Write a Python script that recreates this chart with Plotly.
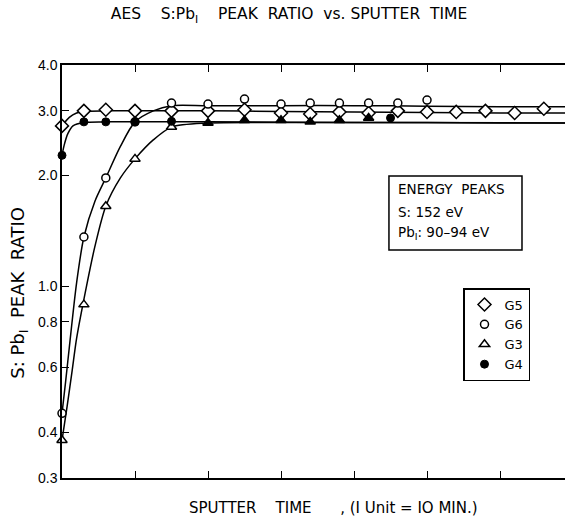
import plotly.graph_objects as go

# ---- data (x in axis tick units, y = S:Pb peak ratio) ----
g5_x = [0, 0.3, 0.6, 1.0, 1.5, 2.0, 2.5, 3.0, 3.4, 3.8, 4.2, 4.6, 5.0, 5.4, 5.8, 6.2, 6.6]
g5_y = [2.73, 3.00, 3.02, 3.00, 3.00, 3.00, 3.02, 2.96, 2.94, 2.98, 2.96, 3.00, 2.98, 2.98, 3.00, 2.96, 3.04]

g6_x = [0, 0.3, 0.6, 1.0, 1.5, 2.0, 2.5, 3.0, 3.4, 3.8, 4.2, 4.6, 5.0]
g6_y = [0.45, 1.36, 1.97, 2.80, 3.15, 3.13, 3.23, 3.13, 3.15, 3.15, 3.15, 3.15, 3.21]

g3_x = [0, 0.3, 0.6, 1.0, 1.5, 2.0, 2.5, 3.0, 3.4, 3.8, 4.2]
g3_y = [0.38, 0.89, 1.65, 2.22, 2.71, 2.78, 2.83, 2.83, 2.80, 2.83, 2.87]

g4_x = [0, 0.3, 0.6, 1.0, 1.5, 4.5]
g4_y = [2.27, 2.80, 2.80, 2.80, 2.81, 2.87]

# hand-drawn smooth fit curves
g5_fit_x = [0, 0.1, 0.2, 0.3, 0.6, 1.0, 2.0, 3.0, 4.0, 5.0, 6.0, 6.89]
g5_fit_y = [2.73, 2.88, 2.96, 2.99, 3.00, 3.00, 3.00, 2.99, 2.98, 2.97, 2.96, 2.96]

g6_fit_x = [0, 0.05, 0.1, 0.2, 0.3, 0.45, 0.6, 0.8, 1.0, 1.25, 1.5, 2.0, 3.0, 4.0, 5.0, 6.0, 6.89]
g6_fit_y = [0.45, 0.55, 0.68, 1.02, 1.36, 1.70, 1.97, 2.40, 2.80, 3.00, 3.10, 3.10, 3.10, 3.10, 3.09, 3.08, 3.08]

g3_fit_x = [0, 0.07, 0.14, 0.2, 0.3, 0.45, 0.6, 0.8, 1.0, 1.25, 1.5, 2.0, 3.0, 4.0, 5.0, 6.0, 6.89]
g3_fit_y = [0.38, 0.47, 0.59, 0.72, 0.92, 1.28, 1.65, 1.97, 2.22, 2.50, 2.71, 2.78, 2.79, 2.79, 2.79, 2.78, 2.78]

g4_fit_x = [0, 0.03, 0.08, 0.15, 0.3, 0.6, 1.0, 2.0, 4.0, 6.89]
g4_fit_y = [2.27, 2.42, 2.60, 2.73, 2.79, 2.80, 2.80, 2.80, 2.79, 2.78]

y_ticks = [0.3, 0.4, 0.6, 0.8, 1.0, 2.0, 3.0, 4.0]
y_tick_text = ["0.3", "0.4", "0.6", "0.8", "1.0", "2.0", "3.0", "4.0"]

FONT = "Liberation Sans"
FONT2 = "DejaVu Sans"
fig = go.Figure()

for fx, fy in [(g5_fit_x, g5_fit_y), (g6_fit_x, g6_fit_y), (g3_fit_x, g3_fit_y), (g4_fit_x, g4_fit_y)]:
    fig.add_trace(go.Scatter(x=fx, y=fy, mode="lines", line=dict(color="black", width=1.5, shape="spline", smoothing=0.8),
                             showlegend=False, hoverinfo="skip", cliponaxis=False))

fig.add_trace(go.Scatter(x=g5_x, y=g5_y, mode="markers", name="G5", cliponaxis=False,
                         marker=dict(symbol="diamond", size=10, color="white", line=dict(color="black", width=1.5))))
fig.add_trace(go.Scatter(x=g6_x, y=g6_y, mode="markers", name="G6", cliponaxis=False,
                         marker=dict(symbol="circle", size=8, color="white", line=dict(color="black", width=1.5))))
g3_fill = ["white" if i < 5 else "black" for i in range(len(g3_x))]
fig.add_trace(go.Scatter(x=g3_x, y=g3_y, mode="markers", name="G3", cliponaxis=False,
                         marker=dict(symbol="triangle-up", size=9, color=g3_fill, line=dict(color="black", width=1.5))))
fig.add_trace(go.Scatter(x=g4_x, y=g4_y, mode="markers", name="G4", cliponaxis=False,
                         marker=dict(symbol="circle", size=8, color="black", line=dict(color="black", width=1))))

# energy peaks box
fig.add_shape(type="rect", xref="paper", yref="paper", x0=0.650, x1=0.9145, y0=0.552, y1=0.731,
              line=dict(color="black", width=1.5), fillcolor="white", layer="above")
for txt, yy in [("ENERGY  PEAKS", 0.700), ("S: 152 eV", 0.644), ("Pb<sub>I</sub>: 90–94 eV", 0.593)]:
    fig.add_annotation(text=txt, xref="paper", yref="paper", x=0.664, y=yy, xanchor="left", yanchor="middle",
                       showarrow=False, font=dict(family=FONT2, size=13.5, color="black"))

# axis titles
fig.add_annotation(text="S: Pb<sub>I</sub>  PEAK  RATIO", xref="paper", yref="paper",
                   x=-0.086, y=(478 - 293) / 413, textangle=-90, showarrow=False,
                   xanchor="center", yanchor="middle", font=dict(family=FONT2, size=18, color="black"))
fig.add_annotation(text="SPUTTER    TIME      , (I Unit = IO MIN.)", xref="paper", yref="paper",
                   x=(187 - 62) / 503, y=-(508 - 478) / 413, showarrow=False,
                   xanchor="left", yanchor="middle", font=dict(family=FONT2, size=15, color="black"))

fig.update_layout(
    width=565, height=517,
    margin=dict(l=62, r=0, t=65, b=39),
    paper_bgcolor="white", plot_bgcolor="white",
    font=dict(family=FONT, size=13, color="black"),
    title=dict(text="AES    S:Pb<sub>I</sub>    PEAK  RATIO  vs. SPUTTER  TIME", x=289 / 565, xanchor="center",
               y=1 - 14 / 517, yanchor="middle", xref="container", yref="container",
               font=dict(family=FONT2, size=15.5, color="black")),
    legend=dict(x=(463 - 62) / 503, y=(478 - 288) / 413, xanchor="left", yanchor="top",
                bordercolor="black", borderwidth=1.5, bgcolor="white",
                font=dict(family=FONT2, size=13, color="black"), itemwidth=30),
    xaxis=dict(range=[0, 6.89], dtick=1, tick0=0, ticks="inside", ticklen=7, tickcolor="black", tickwidth=1.2,
               showline=True, linecolor="black", linewidth=1.5, mirror="ticks", showgrid=False,
               zeroline=False, showticklabels=False),
    yaxis=dict(type="log", range=[-0.5229, 0.60206], tickvals=y_ticks, ticktext=y_tick_text,
               ticks="inside", ticklen=7, tickcolor="black", tickwidth=1.2, showline=True, linecolor="black",
               linewidth=1.5, showgrid=False, zeroline=False, tickfont=dict(family=FONT, size=14)),
)

fig.write_html("out.html")
